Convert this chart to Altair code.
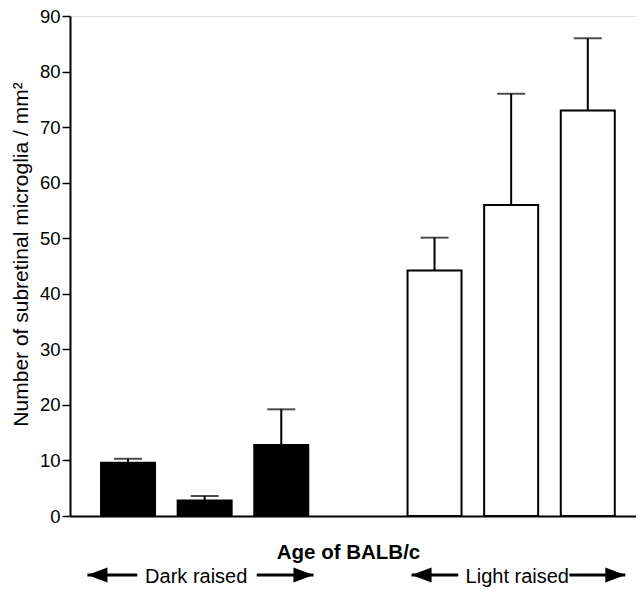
import altair as alt
import pandas as pd

# ---- data ----
slot_order = ["Dark 1", "Dark 2", "Dark 3", "", "Light 1", "Light 2", "Light 3"]
bar_names = ["Dark 1", "Dark 2", "Dark 3", "Light 1", "Light 2", "Light 3"]
bar_groups = ["Dark raised", "Dark raised", "Dark raised",
              "Light raised", "Light raised", "Light raised"]
bar_means = [9.6, 2.8, 12.8, 44.2, 56.0, 73.0]
bar_errors = [0.7, 0.8, 6.4, 5.9, 20.0, 13.0]

y_ticks = [0, 10, 20, 30, 40, 50, 60, 70, 80, 90]
y_title = "Number of subretinal microglia / mm\u00b2"
x_title = "Age of BALB/c"

group_labels = ["Dark raised", "Light raised"]
group_label_pos = [0.89, 5.08]          # label centres, in slot units
arrow_group = ["Dark raised", "Dark raised", "Light raised", "Light raised"]
arrow_dir = ["left", "right", "left", "right"]
arrow_tip = [-0.53, 2.42, 3.70, 6.49]   # slot units
arrow_tail = [0.12, 1.68, 4.31, 5.76]

FONT = "Liberation Sans"

bars = pd.DataFrame({
    "name": bar_names,
    "group": bar_groups,
    "mean": bar_means,
    "err": bar_errors,
})
bars["pos"] = [slot_order.index(n) for n in bar_names]
bars["upper"] = bars["mean"] + bars["err"]

labels = pd.DataFrame({"label": group_labels, "pos": group_label_pos})
arrows = pd.DataFrame({"group": arrow_group, "dir": arrow_dir,
                       "tip": arrow_tip, "tail": arrow_tail})

xscale = alt.Scale(domain=[-0.692, 6.564], nice=False, zero=False)
yscale = alt.Scale(domain=[0, 90], nice=False)

x_axis = alt.Axis(title=x_title, labels=False, ticks=False, grid=False,
                  domainWidth=2, domainColor="black",
                  titleFont=FONT, titleFontSize=20.5, titleFontWeight="bold",
                  titleColor="black", titlePadding=26, titleX=278)
y_axis = alt.Axis(title=y_title, values=y_ticks, grid=False,
                  domainWidth=2, domainColor="black",
                  tickSize=8, tickWidth=1.5, tickColor="black",
                  labelFont=FONT, labelFontSize=18.5, labelColor="black",
                  labelPadding=2,
                  titleFont=FONT, titleFontSize=21, titleFontWeight="normal",
                  titleColor="black", titlePadding=8, titleY=238)

base = alt.Chart(bars)

err_line = base.mark_rule(color="black", strokeWidth=2).encode(
    x=alt.X("pos:Q", scale=xscale, axis=x_axis),
    y=alt.Y("mean:Q", scale=yscale, axis=y_axis),
    y2="upper:Q",
)
err_cap = base.mark_tick(color="black", orient="horizontal", size=28,
                         thickness=2).encode(
    x=alt.X("pos:Q", scale=xscale),
    y=alt.Y("upper:Q", scale=yscale),
)
bar = base.mark_bar(size=54, stroke="black", strokeWidth=2).encode(
    x=alt.X("pos:Q", scale=xscale),
    y=alt.Y("mean:Q", scale=yscale),
    fill=alt.Fill("group:N",
                  scale=alt.Scale(domain=["Dark raised", "Light raised"],
                                  range=["black", "white"]),
                  legend=None),
)

arrow_lines = alt.Chart(arrows).mark_rule(color="black", strokeWidth=3).encode(
    x=alt.X("tip:Q", scale=xscale),
    x2="tail:Q",
    y=alt.value(559),
)
left_heads = alt.Chart(arrows).transform_filter(alt.datum.dir == "left").mark_point(
    shape="M0,0L2,-0.75L2,0.75Z", size=400, filled=True, color="black",
    opacity=1, strokeWidth=0).encode(
    x=alt.X("tip:Q", scale=xscale),
    y=alt.value(559),
)
right_heads = alt.Chart(arrows).transform_filter(alt.datum.dir == "right").mark_point(
    shape="M0,0L-2,-0.75L-2,0.75Z", size=400, filled=True, color="black",
    opacity=1, strokeWidth=0).encode(
    x=alt.X("tip:Q", scale=xscale),
    y=alt.value(559),
)
label_text = alt.Chart(labels).mark_text(
    font=FONT, fontSize=20, color="black", align="center",
    baseline="alphabetic").encode(
    x=alt.X("pos:Q", scale=xscale),
    y=alt.value(567),
    text="label:N",
)

chart = alt.layer(
    err_line, err_cap, bar, arrow_lines, left_heads, right_heads, label_text
).properties(
    width=566, height=500,
    autosize=alt.AutoSizeParams(type="none"),
    padding={"left": 62, "top": 8, "right": 0, "bottom": 78},
).configure_view(stroke=None).configure(background="white")

chart.save("out.html", embed_options={"renderer": "svg", "actions": False})
